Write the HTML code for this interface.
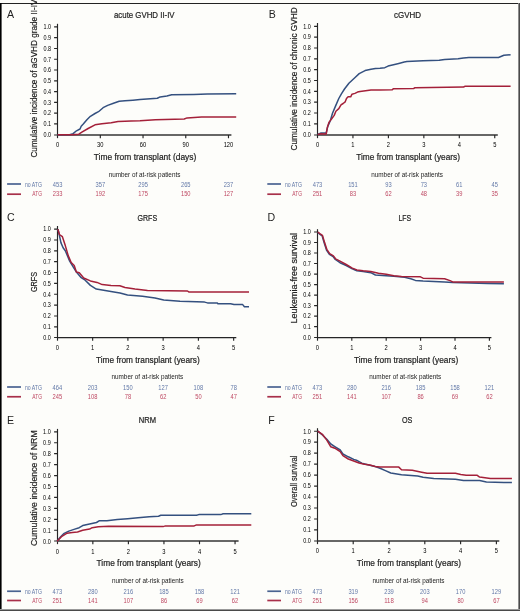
<!DOCTYPE html>
<html><head><meta charset="utf-8"><title>Figure</title>
<style>
html,body{margin:0;padding:0;background:#fdfdfa;}
body{width:520px;height:611px;overflow:hidden;}
svg{display:block;will-change:transform;font-family:"Liberation Sans", sans-serif;}
.dk{stroke:#222;stroke-width:0.2px;}
</style></head><body>
<svg width="520" height="611" viewBox="0 0 520 611">
<rect x="0" y="0" width="520" height="611" fill="#fdfdfa"/>
<g><text x="6.9" y="18.2" font-size="10.6" fill="#222">A</text>
<text x="114" y="18.45" font-size="8.8" fill="#222" class="dk" textLength="60.6" lengthAdjust="spacingAndGlyphs">acute GVHD II-IV</text>
<text transform="translate(37,157.6) rotate(-90)" x="0" y="0" font-size="9" fill="#222" class="dk" textLength="158.1" lengthAdjust="spacingAndGlyphs">Cumulative incidence of aGVHD grade II-IV</text>
<text x="93.75" y="159.5" font-size="8.8" fill="#222" class="dk" textLength="102.55" lengthAdjust="spacingAndGlyphs">Time from transplant (days)</text>
<path d="M57.5,23.8V138.15" stroke="#262626" stroke-width="1.15" fill="none"/>
<path d="M57.0,134.95H231.4" stroke="#353535" stroke-width="1.5" fill="none"/>
<path d="M54.1,123.92H57.5M54.1,113.14H57.5M54.1,102.36H57.5M54.1,91.58H57.5M54.1,80.8H57.5M54.1,70.02H57.5M54.1,59.24H57.5M54.1,48.46H57.5M54.1,37.68H57.5M54.1,26.9H57.5M54.1,134.95H57.5M100.32,134.95V138.15M143.04,134.95V138.15M185.76,134.95V138.15M228.48,134.95V138.15" stroke="#262626" stroke-width="1.15" fill="none"/>
<text x="51" y="137" font-size="6.6" fill="#000" text-anchor="end" textLength="7.6" lengthAdjust="spacingAndGlyphs">0.0</text>
<text x="51" y="126.22" font-size="6.6" fill="#000" text-anchor="end" textLength="7.6" lengthAdjust="spacingAndGlyphs">0.1</text>
<text x="51" y="115.44" font-size="6.6" fill="#000" text-anchor="end" textLength="7.6" lengthAdjust="spacingAndGlyphs">0.2</text>
<text x="51" y="104.66" font-size="6.6" fill="#000" text-anchor="end" textLength="7.6" lengthAdjust="spacingAndGlyphs">0.3</text>
<text x="51" y="93.88" font-size="6.6" fill="#000" text-anchor="end" textLength="7.6" lengthAdjust="spacingAndGlyphs">0.4</text>
<text x="51" y="83.1" font-size="6.6" fill="#000" text-anchor="end" textLength="7.6" lengthAdjust="spacingAndGlyphs">0.5</text>
<text x="51" y="72.32" font-size="6.6" fill="#000" text-anchor="end" textLength="7.6" lengthAdjust="spacingAndGlyphs">0.6</text>
<text x="51" y="61.54" font-size="6.6" fill="#000" text-anchor="end" textLength="7.6" lengthAdjust="spacingAndGlyphs">0.7</text>
<text x="51" y="50.76" font-size="6.6" fill="#000" text-anchor="end" textLength="7.6" lengthAdjust="spacingAndGlyphs">0.8</text>
<text x="51" y="39.98" font-size="6.6" fill="#000" text-anchor="end" textLength="7.6" lengthAdjust="spacingAndGlyphs">0.9</text>
<text x="51" y="29.2" font-size="6.6" fill="#000" text-anchor="end" textLength="7.6" lengthAdjust="spacingAndGlyphs">1.0</text>
<text x="57.6" y="147" font-size="6.8" fill="#000" text-anchor="middle" textLength="3.2" lengthAdjust="spacingAndGlyphs">0</text>
<text x="100.32" y="147" font-size="6.8" fill="#000" text-anchor="middle" textLength="6.4" lengthAdjust="spacingAndGlyphs">30</text>
<text x="143.04" y="147" font-size="6.8" fill="#000" text-anchor="middle" textLength="6.4" lengthAdjust="spacingAndGlyphs">60</text>
<text x="185.76" y="147" font-size="6.8" fill="#000" text-anchor="middle" textLength="6.4" lengthAdjust="spacingAndGlyphs">90</text>
<text x="228.48" y="147" font-size="6.8" fill="#000" text-anchor="middle" textLength="9.6" lengthAdjust="spacingAndGlyphs">120</text>
<polyline points="57.6,134.7 69.6,134.7 73.1,133.65 76.5,130.8 80,129 81.2,126.2 83.5,123.8 86.9,119.8 90.4,116.3 95,113.5 98.5,111.7 103.1,107.7 107.7,105.4 113.5,103.3 119.2,101.3 125,100.8 132.9,100.2 140,99.6 157.3,98.3 160.2,96.9 166.9,96 171.7,94.8 193.8,94.4 207.3,94 236.2,93.8" stroke="#34507f" stroke-width="1.5" fill="none" stroke-linejoin="round"/>
<polyline points="57.6,134.8 71.9,134.8 78.8,134.2 82.3,131.9 88.1,128.5 95,124.8 101.9,123.8 111.2,122.7 118.1,121.5 125,121.3 131.1,121 140,120.8 155.4,119.8 184.2,119 187.1,117.9 201.5,117.1 236.2,117.1" stroke="#a42039" stroke-width="1.5" fill="none" stroke-linejoin="round"/>
<text x="108.65" y="176.6" font-size="7" fill="#222" textLength="71.75" lengthAdjust="spacingAndGlyphs">number of at-risk patients</text>
<path d="M7.1,184H21" stroke="#4a6391" stroke-width="1.7"/>
<path d="M7.1,194.2H21" stroke="#a8304a" stroke-width="1.7"/>
<text x="24.9" y="186.7" font-size="6.5" fill="#6379a8" textLength="17.1" lengthAdjust="spacingAndGlyphs">no ATG</text>
<text x="32.3" y="196.3" font-size="6.5" fill="#bf4a64" textLength="9.7" lengthAdjust="spacingAndGlyphs">ATG</text>
<text x="57.6" y="186.7" font-size="6.3" fill="#6379a8" text-anchor="middle" textLength="9.6" lengthAdjust="spacingAndGlyphs">453</text>
<text x="57.6" y="196.3" font-size="6.3" fill="#bf4a64" text-anchor="middle" textLength="9.6" lengthAdjust="spacingAndGlyphs">233</text>
<text x="100.32" y="186.7" font-size="6.3" fill="#6379a8" text-anchor="middle" textLength="9.6" lengthAdjust="spacingAndGlyphs">357</text>
<text x="100.32" y="196.3" font-size="6.3" fill="#bf4a64" text-anchor="middle" textLength="9.6" lengthAdjust="spacingAndGlyphs">192</text>
<text x="143.04" y="186.7" font-size="6.3" fill="#6379a8" text-anchor="middle" textLength="9.6" lengthAdjust="spacingAndGlyphs">295</text>
<text x="143.04" y="196.3" font-size="6.3" fill="#bf4a64" text-anchor="middle" textLength="9.6" lengthAdjust="spacingAndGlyphs">175</text>
<text x="185.76" y="186.7" font-size="6.3" fill="#6379a8" text-anchor="middle" textLength="9.6" lengthAdjust="spacingAndGlyphs">265</text>
<text x="185.76" y="196.3" font-size="6.3" fill="#bf4a64" text-anchor="middle" textLength="9.6" lengthAdjust="spacingAndGlyphs">150</text>
<text x="228.48" y="186.7" font-size="6.3" fill="#6379a8" text-anchor="middle" textLength="9.6" lengthAdjust="spacingAndGlyphs">237</text>
<text x="228.48" y="196.3" font-size="6.3" fill="#bf4a64" text-anchor="middle" textLength="9.6" lengthAdjust="spacingAndGlyphs">127</text></g>
<g><text x="268.8" y="18.2" font-size="10.6" fill="#222">B</text>
<text x="394" y="18.45" font-size="8.8" fill="#222" class="dk" textLength="27" lengthAdjust="spacingAndGlyphs">cGVHD</text>
<text transform="translate(297,150.5) rotate(-90)" x="0" y="0" font-size="9" fill="#222" class="dk" textLength="143.3" lengthAdjust="spacingAndGlyphs">Cumulative incidence of chronic GVHD</text>
<text x="356.25" y="159.5" font-size="8.8" fill="#222" class="dk" textLength="103.75" lengthAdjust="spacingAndGlyphs">Time from transplant (years)</text>
<path d="M317.5,23V138.15" stroke="#262626" stroke-width="1.15" fill="none"/>
<path d="M317.0,134.95H497.8" stroke="#353535" stroke-width="1.5" fill="none"/>
<path d="M314.1,123.86H317.5M314.1,113.03H317.5M314.1,102.19H317.5M314.1,91.36H317.5M314.1,80.52H317.5M314.1,69.69H317.5M314.1,58.85H317.5M314.1,48.02H317.5M314.1,37.18H317.5M314.1,26.35H317.5M314.1,134.95H317.5M352.95,134.95V138.15M388.4,134.95V138.15M423.85,134.95V138.15M459.3,134.95V138.15M494.75,134.95V138.15" stroke="#262626" stroke-width="1.15" fill="none"/>
<text x="310.9" y="137" font-size="6.6" fill="#000" text-anchor="end" textLength="7.6" lengthAdjust="spacingAndGlyphs">0.0</text>
<text x="310.9" y="126.16" font-size="6.6" fill="#000" text-anchor="end" textLength="7.6" lengthAdjust="spacingAndGlyphs">0.1</text>
<text x="310.9" y="115.33" font-size="6.6" fill="#000" text-anchor="end" textLength="7.6" lengthAdjust="spacingAndGlyphs">0.2</text>
<text x="310.9" y="104.49" font-size="6.6" fill="#000" text-anchor="end" textLength="7.6" lengthAdjust="spacingAndGlyphs">0.3</text>
<text x="310.9" y="93.66" font-size="6.6" fill="#000" text-anchor="end" textLength="7.6" lengthAdjust="spacingAndGlyphs">0.4</text>
<text x="310.9" y="82.82" font-size="6.6" fill="#000" text-anchor="end" textLength="7.6" lengthAdjust="spacingAndGlyphs">0.5</text>
<text x="310.9" y="71.99" font-size="6.6" fill="#000" text-anchor="end" textLength="7.6" lengthAdjust="spacingAndGlyphs">0.6</text>
<text x="310.9" y="61.15" font-size="6.6" fill="#000" text-anchor="end" textLength="7.6" lengthAdjust="spacingAndGlyphs">0.7</text>
<text x="310.9" y="50.32" font-size="6.6" fill="#000" text-anchor="end" textLength="7.6" lengthAdjust="spacingAndGlyphs">0.8</text>
<text x="310.9" y="39.48" font-size="6.6" fill="#000" text-anchor="end" textLength="7.6" lengthAdjust="spacingAndGlyphs">0.9</text>
<text x="310.9" y="28.65" font-size="6.6" fill="#000" text-anchor="end" textLength="7.6" lengthAdjust="spacingAndGlyphs">1.0</text>
<text x="317.5" y="147" font-size="6.8" fill="#000" text-anchor="middle" textLength="3.2" lengthAdjust="spacingAndGlyphs">0</text>
<text x="352.95" y="147" font-size="6.8" fill="#000" text-anchor="middle" textLength="3.2" lengthAdjust="spacingAndGlyphs">1</text>
<text x="388.4" y="147" font-size="6.8" fill="#000" text-anchor="middle" textLength="3.2" lengthAdjust="spacingAndGlyphs">2</text>
<text x="423.85" y="147" font-size="6.8" fill="#000" text-anchor="middle" textLength="3.2" lengthAdjust="spacingAndGlyphs">3</text>
<text x="459.3" y="147" font-size="6.8" fill="#000" text-anchor="middle" textLength="3.2" lengthAdjust="spacingAndGlyphs">4</text>
<text x="494.75" y="147" font-size="6.8" fill="#000" text-anchor="middle" textLength="3.2" lengthAdjust="spacingAndGlyphs">5</text>
<polyline points="317.7,134.5 321.1,132.9 326.2,132.9 327.8,126.4 330.4,120.5 332.5,113.3 335.5,106.1 338.8,98.5 341.4,93.8 344.5,89 348.9,83.2 354.8,77.7 359.2,73.6 365.1,70.6 371,69.2 375.4,68.4 380,68.3 384.8,67.7 388.1,66.1 393.5,64.8 398.8,63.4 404.2,62.1 406.9,61.5 423.1,60.7 439.2,60.2 444.6,59.4 458.1,58.8 463.5,58 468.9,57.5 498.5,57.5 503.9,55.3 510.6,54.8" stroke="#34507f" stroke-width="1.5" fill="none" stroke-linejoin="round"/>
<polyline points="317.7,134.5 321.1,133.7 326.2,134 327.4,127.2 329.1,122.1 331.7,118.8 334.2,115.4 335.9,111.2 338.8,108.6 341,104.8 343.1,103.5 345.2,101.8 346.5,98.5 348.1,96.8 350.7,96.8 352,94.2 354.9,93.4 357.5,92.1 360,91.6 371,90.1 380,90.1 392.1,89.8 393.5,88.7 413.7,88.5 415,87.7 463.5,87.1 464.8,86.3 510.6,86.3" stroke="#a42039" stroke-width="1.5" fill="none" stroke-linejoin="round"/>
<text x="371.25" y="176.6" font-size="7" fill="#222" textLength="71.75" lengthAdjust="spacingAndGlyphs">number of at-risk patients</text>
<path d="M267.3,184H281" stroke="#4a6391" stroke-width="1.7"/>
<path d="M267.3,194.2H281" stroke="#a8304a" stroke-width="1.7"/>
<text x="284.9" y="186.7" font-size="6.5" fill="#6379a8" textLength="17.1" lengthAdjust="spacingAndGlyphs">no ATG</text>
<text x="292.3" y="196.3" font-size="6.5" fill="#bf4a64" textLength="9.7" lengthAdjust="spacingAndGlyphs">ATG</text>
<text x="317.5" y="186.7" font-size="6.3" fill="#6379a8" text-anchor="middle" textLength="9.6" lengthAdjust="spacingAndGlyphs">473</text>
<text x="317.5" y="196.3" font-size="6.3" fill="#bf4a64" text-anchor="middle" textLength="9.6" lengthAdjust="spacingAndGlyphs">251</text>
<text x="352.95" y="186.7" font-size="6.3" fill="#6379a8" text-anchor="middle" textLength="9.6" lengthAdjust="spacingAndGlyphs">151</text>
<text x="352.95" y="196.3" font-size="6.3" fill="#bf4a64" text-anchor="middle" textLength="6.4" lengthAdjust="spacingAndGlyphs">83</text>
<text x="388.4" y="186.7" font-size="6.3" fill="#6379a8" text-anchor="middle" textLength="6.4" lengthAdjust="spacingAndGlyphs">93</text>
<text x="388.4" y="196.3" font-size="6.3" fill="#bf4a64" text-anchor="middle" textLength="6.4" lengthAdjust="spacingAndGlyphs">62</text>
<text x="423.85" y="186.7" font-size="6.3" fill="#6379a8" text-anchor="middle" textLength="6.4" lengthAdjust="spacingAndGlyphs">73</text>
<text x="423.85" y="196.3" font-size="6.3" fill="#bf4a64" text-anchor="middle" textLength="6.4" lengthAdjust="spacingAndGlyphs">48</text>
<text x="459.3" y="186.7" font-size="6.3" fill="#6379a8" text-anchor="middle" textLength="6.4" lengthAdjust="spacingAndGlyphs">61</text>
<text x="459.3" y="196.3" font-size="6.3" fill="#bf4a64" text-anchor="middle" textLength="6.4" lengthAdjust="spacingAndGlyphs">39</text>
<text x="494.75" y="186.7" font-size="6.3" fill="#6379a8" text-anchor="middle" textLength="6.4" lengthAdjust="spacingAndGlyphs">45</text>
<text x="494.75" y="196.3" font-size="6.3" fill="#bf4a64" text-anchor="middle" textLength="6.4" lengthAdjust="spacingAndGlyphs">35</text></g>
<g><text x="6.9" y="221" font-size="10.6" fill="#222">C</text>
<text x="137.5" y="221.25" font-size="8.8" fill="#222" class="dk" textLength="19.65" lengthAdjust="spacingAndGlyphs">GRFS</text>
<text transform="translate(37,292.1) rotate(-90)" x="0" y="0" font-size="9" fill="#222" class="dk" textLength="20.3" lengthAdjust="spacingAndGlyphs">GRFS</text>
<text x="96" y="362.5" font-size="8.8" fill="#222" class="dk" textLength="103.75" lengthAdjust="spacingAndGlyphs">Time from transplant (years)</text>
<path d="M57.5,226V340.7" stroke="#262626" stroke-width="1.15" fill="none"/>
<path d="M57.0,337.5H236.3" stroke="#262626" stroke-width="1.25" fill="none"/>
<path d="M54.1,326.84H57.5M54.1,315.98H57.5M54.1,305.12H57.5M54.1,294.26H57.5M54.1,283.4H57.5M54.1,272.54H57.5M54.1,261.68H57.5M54.1,250.82H57.5M54.1,239.96H57.5M54.1,229.1H57.5M54.1,337.5H57.5M92.65,337.5V340.7M127.9,337.5V340.7M163.15,337.5V340.7M198.4,337.5V340.7M233.65,337.5V340.7" stroke="#262626" stroke-width="1.15" fill="none"/>
<text x="50.8" y="340" font-size="6.6" fill="#000" text-anchor="end" textLength="7.6" lengthAdjust="spacingAndGlyphs">0.0</text>
<text x="50.8" y="329.14" font-size="6.6" fill="#000" text-anchor="end" textLength="7.6" lengthAdjust="spacingAndGlyphs">0.1</text>
<text x="50.8" y="318.28" font-size="6.6" fill="#000" text-anchor="end" textLength="7.6" lengthAdjust="spacingAndGlyphs">0.2</text>
<text x="50.8" y="307.42" font-size="6.6" fill="#000" text-anchor="end" textLength="7.6" lengthAdjust="spacingAndGlyphs">0.3</text>
<text x="50.8" y="296.56" font-size="6.6" fill="#000" text-anchor="end" textLength="7.6" lengthAdjust="spacingAndGlyphs">0.4</text>
<text x="50.8" y="285.7" font-size="6.6" fill="#000" text-anchor="end" textLength="7.6" lengthAdjust="spacingAndGlyphs">0.5</text>
<text x="50.8" y="274.84" font-size="6.6" fill="#000" text-anchor="end" textLength="7.6" lengthAdjust="spacingAndGlyphs">0.6</text>
<text x="50.8" y="263.98" font-size="6.6" fill="#000" text-anchor="end" textLength="7.6" lengthAdjust="spacingAndGlyphs">0.7</text>
<text x="50.8" y="253.12" font-size="6.6" fill="#000" text-anchor="end" textLength="7.6" lengthAdjust="spacingAndGlyphs">0.8</text>
<text x="50.8" y="242.26" font-size="6.6" fill="#000" text-anchor="end" textLength="7.6" lengthAdjust="spacingAndGlyphs">0.9</text>
<text x="50.8" y="231.4" font-size="6.6" fill="#000" text-anchor="end" textLength="7.6" lengthAdjust="spacingAndGlyphs">1.0</text>
<text x="57.4" y="350" font-size="6.8" fill="#000" text-anchor="middle" textLength="3.2" lengthAdjust="spacingAndGlyphs">0</text>
<text x="92.65" y="350" font-size="6.8" fill="#000" text-anchor="middle" textLength="3.2" lengthAdjust="spacingAndGlyphs">1</text>
<text x="127.9" y="350" font-size="6.8" fill="#000" text-anchor="middle" textLength="3.2" lengthAdjust="spacingAndGlyphs">2</text>
<text x="163.15" y="350" font-size="6.8" fill="#000" text-anchor="middle" textLength="3.2" lengthAdjust="spacingAndGlyphs">3</text>
<text x="198.4" y="350" font-size="6.8" fill="#000" text-anchor="middle" textLength="3.2" lengthAdjust="spacingAndGlyphs">4</text>
<text x="233.65" y="350" font-size="6.8" fill="#000" text-anchor="middle" textLength="3.2" lengthAdjust="spacingAndGlyphs">5</text>
<polyline points="57.9,229.1 59.4,235.3 60.9,242.6 63.1,247.8 65.3,250.7 67.5,255.9 69.7,261.1 72.7,266.2 76.4,272.1 80.8,277.3 85.2,280.2 90.4,285.4 96.3,289.05 105.1,290.5 113.9,292 120,293 127.5,295 142.5,296.25 155,298 163.75,300 180,301.25 204.6,302.1 207.5,302.9 217.3,302.9 217.9,303.7 230.6,303.7 234,304.4 242.7,304.6 244.4,306.7 249,306.7" stroke="#34507f" stroke-width="1.5" fill="none" stroke-linejoin="round"/>
<polyline points="57.9,229.1 59.4,234.5 62.4,236.7 65.3,245.6 68.3,255.9 71.2,262.5 74.2,265.5 76.4,272.1 79.3,272.8 83.7,278 90.4,280.9 97,282.4 102.2,284.6 111,285.4 119.8,285.7 125,287.5 135,289 147.5,290.5 187.5,291 188.75,291.9 249,291.9" stroke="#a42039" stroke-width="1.5" fill="none" stroke-linejoin="round"/>
<text x="111.5" y="379.3" font-size="7" fill="#222" textLength="71.75" lengthAdjust="spacingAndGlyphs">number of at-risk patients</text>
<path d="M7.1,387H21" stroke="#4a6391" stroke-width="1.7"/>
<path d="M7.1,396.75H21" stroke="#a8304a" stroke-width="1.7"/>
<text x="24.9" y="389.6" font-size="6.5" fill="#6379a8" textLength="17.1" lengthAdjust="spacingAndGlyphs">no ATG</text>
<text x="32.3" y="399.2" font-size="6.5" fill="#bf4a64" textLength="9.7" lengthAdjust="spacingAndGlyphs">ATG</text>
<text x="57.4" y="389.6" font-size="6.3" fill="#6379a8" text-anchor="middle" textLength="9.6" lengthAdjust="spacingAndGlyphs">464</text>
<text x="57.4" y="399.2" font-size="6.3" fill="#bf4a64" text-anchor="middle" textLength="9.6" lengthAdjust="spacingAndGlyphs">245</text>
<text x="92.65" y="389.6" font-size="6.3" fill="#6379a8" text-anchor="middle" textLength="9.6" lengthAdjust="spacingAndGlyphs">203</text>
<text x="92.65" y="399.2" font-size="6.3" fill="#bf4a64" text-anchor="middle" textLength="9.6" lengthAdjust="spacingAndGlyphs">108</text>
<text x="127.9" y="389.6" font-size="6.3" fill="#6379a8" text-anchor="middle" textLength="9.6" lengthAdjust="spacingAndGlyphs">150</text>
<text x="127.9" y="399.2" font-size="6.3" fill="#bf4a64" text-anchor="middle" textLength="6.4" lengthAdjust="spacingAndGlyphs">78</text>
<text x="163.15" y="389.6" font-size="6.3" fill="#6379a8" text-anchor="middle" textLength="9.6" lengthAdjust="spacingAndGlyphs">127</text>
<text x="163.15" y="399.2" font-size="6.3" fill="#bf4a64" text-anchor="middle" textLength="6.4" lengthAdjust="spacingAndGlyphs">62</text>
<text x="198.4" y="389.6" font-size="6.3" fill="#6379a8" text-anchor="middle" textLength="9.6" lengthAdjust="spacingAndGlyphs">108</text>
<text x="198.4" y="399.2" font-size="6.3" fill="#bf4a64" text-anchor="middle" textLength="6.4" lengthAdjust="spacingAndGlyphs">50</text>
<text x="233.65" y="389.6" font-size="6.3" fill="#6379a8" text-anchor="middle" textLength="6.4" lengthAdjust="spacingAndGlyphs">78</text>
<text x="233.65" y="399.2" font-size="6.3" fill="#bf4a64" text-anchor="middle" textLength="6.4" lengthAdjust="spacingAndGlyphs">47</text></g>
<g><text x="267.5" y="221" font-size="10.6" fill="#222">D</text>
<text x="398.5" y="221.25" font-size="8.8" fill="#222" class="dk" textLength="12.65" lengthAdjust="spacingAndGlyphs">LFS</text>
<text transform="translate(297,323.4) rotate(-90)" x="0" y="0" font-size="9" fill="#222" class="dk" textLength="90.5" lengthAdjust="spacingAndGlyphs">Leukemia-free survival</text>
<text x="354" y="362.5" font-size="8.8" fill="#222" class="dk" textLength="104.2" lengthAdjust="spacingAndGlyphs">Time from transplant (years)</text>
<path d="M317.5,229.2V340.7" stroke="#262626" stroke-width="1.15" fill="none"/>
<path d="M317.0,337.5H491.4" stroke="#262626" stroke-width="1.25" fill="none"/>
<path d="M314.1,326.68H317.5M314.1,316.15H317.5M314.1,305.62H317.5M314.1,295.1H317.5M314.1,284.57H317.5M314.1,274.05H317.5M314.1,263.52H317.5M314.1,253H317.5M314.1,242.47H317.5M314.1,231.95H317.5M314.1,337.5H317.5M351.8,337.5V340.7M386.2,337.5V340.7M420.6,337.5V340.7M455,337.5V340.7M489.4,337.5V340.7" stroke="#262626" stroke-width="1.15" fill="none"/>
<text x="310.8" y="339.5" font-size="6.6" fill="#000" text-anchor="end" textLength="7.6" lengthAdjust="spacingAndGlyphs">0.0</text>
<text x="310.8" y="328.98" font-size="6.6" fill="#000" text-anchor="end" textLength="7.6" lengthAdjust="spacingAndGlyphs">0.1</text>
<text x="310.8" y="318.45" font-size="6.6" fill="#000" text-anchor="end" textLength="7.6" lengthAdjust="spacingAndGlyphs">0.2</text>
<text x="310.8" y="307.93" font-size="6.6" fill="#000" text-anchor="end" textLength="7.6" lengthAdjust="spacingAndGlyphs">0.3</text>
<text x="310.8" y="297.4" font-size="6.6" fill="#000" text-anchor="end" textLength="7.6" lengthAdjust="spacingAndGlyphs">0.4</text>
<text x="310.8" y="286.88" font-size="6.6" fill="#000" text-anchor="end" textLength="7.6" lengthAdjust="spacingAndGlyphs">0.5</text>
<text x="310.8" y="276.35" font-size="6.6" fill="#000" text-anchor="end" textLength="7.6" lengthAdjust="spacingAndGlyphs">0.6</text>
<text x="310.8" y="265.82" font-size="6.6" fill="#000" text-anchor="end" textLength="7.6" lengthAdjust="spacingAndGlyphs">0.7</text>
<text x="310.8" y="255.3" font-size="6.6" fill="#000" text-anchor="end" textLength="7.6" lengthAdjust="spacingAndGlyphs">0.8</text>
<text x="310.8" y="244.78" font-size="6.6" fill="#000" text-anchor="end" textLength="7.6" lengthAdjust="spacingAndGlyphs">0.9</text>
<text x="310.8" y="234.25" font-size="6.6" fill="#000" text-anchor="end" textLength="7.6" lengthAdjust="spacingAndGlyphs">1.0</text>
<text x="317.4" y="349.5" font-size="6.8" fill="#000" text-anchor="middle" textLength="3.2" lengthAdjust="spacingAndGlyphs">0</text>
<text x="351.8" y="349.5" font-size="6.8" fill="#000" text-anchor="middle" textLength="3.2" lengthAdjust="spacingAndGlyphs">1</text>
<text x="386.2" y="349.5" font-size="6.8" fill="#000" text-anchor="middle" textLength="3.2" lengthAdjust="spacingAndGlyphs">2</text>
<text x="420.6" y="349.5" font-size="6.8" fill="#000" text-anchor="middle" textLength="3.2" lengthAdjust="spacingAndGlyphs">3</text>
<text x="455" y="349.5" font-size="6.8" fill="#000" text-anchor="middle" textLength="3.2" lengthAdjust="spacingAndGlyphs">4</text>
<text x="489.4" y="349.5" font-size="6.8" fill="#000" text-anchor="middle" textLength="3.2" lengthAdjust="spacingAndGlyphs">5</text>
<polyline points="317.7,232.3 320,234.4 322.2,236 324.3,243.3 326.5,250 329.4,254.4 333.1,256.6 335.3,259.5 340,262.7 346.2,265.5 352.3,268.8 356.9,270.8 363.1,271.6 370.8,272.7 375.4,275 386.2,275.8 393.8,276.2 404.6,277.3 410.8,278.8 415.4,280.4 423.1,281.1 444.6,281.9 452.7,282.5 487.7,283.4 503.9,283.7" stroke="#34507f" stroke-width="1.5" fill="none" stroke-linejoin="round"/>
<polyline points="317.7,232 320.2,233.8 322.4,235.3 324.6,242.6 326.8,249.3 329.7,253.7 333.4,255.9 335.6,258.8 340,261.15 346.2,264.5 352.3,268.1 356.9,269.9 363.1,270.8 370.8,271.6 378.5,273.2 386.2,274.2 393.8,275.8 401.5,276.5 420.4,276.8 423.1,278.2 444.6,278.7 450,280.6 452.7,281.9 503.9,281.9" stroke="#a42039" stroke-width="1.5" fill="none" stroke-linejoin="round"/>
<text x="369.25" y="379.3" font-size="7" fill="#222" textLength="72" lengthAdjust="spacingAndGlyphs">number of at-risk patients</text>
<path d="M267.3,387H281" stroke="#4a6391" stroke-width="1.7"/>
<path d="M267.3,396.75H281" stroke="#a8304a" stroke-width="1.7"/>
<text x="284.9" y="389.6" font-size="6.5" fill="#6379a8" textLength="17.1" lengthAdjust="spacingAndGlyphs">no ATG</text>
<text x="292.3" y="399.2" font-size="6.5" fill="#bf4a64" textLength="9.7" lengthAdjust="spacingAndGlyphs">ATG</text>
<text x="317.4" y="389.6" font-size="6.3" fill="#6379a8" text-anchor="middle" textLength="9.6" lengthAdjust="spacingAndGlyphs">473</text>
<text x="317.4" y="399.2" font-size="6.3" fill="#bf4a64" text-anchor="middle" textLength="9.6" lengthAdjust="spacingAndGlyphs">251</text>
<text x="351.8" y="389.6" font-size="6.3" fill="#6379a8" text-anchor="middle" textLength="9.6" lengthAdjust="spacingAndGlyphs">280</text>
<text x="351.8" y="399.2" font-size="6.3" fill="#bf4a64" text-anchor="middle" textLength="9.6" lengthAdjust="spacingAndGlyphs">141</text>
<text x="386.2" y="389.6" font-size="6.3" fill="#6379a8" text-anchor="middle" textLength="9.6" lengthAdjust="spacingAndGlyphs">216</text>
<text x="386.2" y="399.2" font-size="6.3" fill="#bf4a64" text-anchor="middle" textLength="9.6" lengthAdjust="spacingAndGlyphs">107</text>
<text x="420.6" y="389.6" font-size="6.3" fill="#6379a8" text-anchor="middle" textLength="9.6" lengthAdjust="spacingAndGlyphs">185</text>
<text x="420.6" y="399.2" font-size="6.3" fill="#bf4a64" text-anchor="middle" textLength="6.4" lengthAdjust="spacingAndGlyphs">86</text>
<text x="455" y="389.6" font-size="6.3" fill="#6379a8" text-anchor="middle" textLength="9.6" lengthAdjust="spacingAndGlyphs">158</text>
<text x="455" y="399.2" font-size="6.3" fill="#bf4a64" text-anchor="middle" textLength="6.4" lengthAdjust="spacingAndGlyphs">69</text>
<text x="489.4" y="389.6" font-size="6.3" fill="#6379a8" text-anchor="middle" textLength="9.6" lengthAdjust="spacingAndGlyphs">121</text>
<text x="489.4" y="399.2" font-size="6.3" fill="#bf4a64" text-anchor="middle" textLength="6.4" lengthAdjust="spacingAndGlyphs">62</text></g>
<g><text x="6.9" y="423.5" font-size="10.6" fill="#222">E</text>
<text x="138.7" y="423.25" font-size="8.8" fill="#222" class="dk" textLength="17.3" lengthAdjust="spacingAndGlyphs">NRM</text>
<text transform="translate(37.2,546) rotate(-90)" x="0" y="0" font-size="9" fill="#222" class="dk" textLength="115.7" lengthAdjust="spacingAndGlyphs">Cumulative incidence of NRM</text>
<text x="96.6" y="565.5" font-size="8.8" fill="#222" class="dk" textLength="104.2" lengthAdjust="spacingAndGlyphs">Time from transplant (years)</text>
<path d="M57.5,428.9V544.15" stroke="#262626" stroke-width="1.15" fill="none"/>
<path d="M57.0,540.95H238.6" stroke="#353535" stroke-width="1.5" fill="none"/>
<path d="M54.1,530.26H57.5M54.1,519.32H57.5M54.1,508.38H57.5M54.1,497.44H57.5M54.1,486.5H57.5M54.1,475.56H57.5M54.1,464.62H57.5M54.1,453.68H57.5M54.1,442.74H57.5M54.1,431.8H57.5M54.1,540.95H57.5M92.85,540.95V544.15M128.4,540.95V544.15M163.95,540.95V544.15M199.5,540.95V544.15M235.05,540.95V544.15" stroke="#262626" stroke-width="1.15" fill="none"/>
<text x="50.7" y="543.5" font-size="6.6" fill="#000" text-anchor="end" textLength="7.6" lengthAdjust="spacingAndGlyphs">0.0</text>
<text x="50.7" y="532.56" font-size="6.6" fill="#000" text-anchor="end" textLength="7.6" lengthAdjust="spacingAndGlyphs">0.1</text>
<text x="50.7" y="521.62" font-size="6.6" fill="#000" text-anchor="end" textLength="7.6" lengthAdjust="spacingAndGlyphs">0.2</text>
<text x="50.7" y="510.68" font-size="6.6" fill="#000" text-anchor="end" textLength="7.6" lengthAdjust="spacingAndGlyphs">0.3</text>
<text x="50.7" y="499.74" font-size="6.6" fill="#000" text-anchor="end" textLength="7.6" lengthAdjust="spacingAndGlyphs">0.4</text>
<text x="50.7" y="488.8" font-size="6.6" fill="#000" text-anchor="end" textLength="7.6" lengthAdjust="spacingAndGlyphs">0.5</text>
<text x="50.7" y="477.86" font-size="6.6" fill="#000" text-anchor="end" textLength="7.6" lengthAdjust="spacingAndGlyphs">0.6</text>
<text x="50.7" y="466.92" font-size="6.6" fill="#000" text-anchor="end" textLength="7.6" lengthAdjust="spacingAndGlyphs">0.7</text>
<text x="50.7" y="455.98" font-size="6.6" fill="#000" text-anchor="end" textLength="7.6" lengthAdjust="spacingAndGlyphs">0.8</text>
<text x="50.7" y="445.04" font-size="6.6" fill="#000" text-anchor="end" textLength="7.6" lengthAdjust="spacingAndGlyphs">0.9</text>
<text x="50.7" y="434.1" font-size="6.6" fill="#000" text-anchor="end" textLength="7.6" lengthAdjust="spacingAndGlyphs">1.0</text>
<text x="57.3" y="553.5" font-size="6.8" fill="#000" text-anchor="middle" textLength="3.2" lengthAdjust="spacingAndGlyphs">0</text>
<text x="92.85" y="553.5" font-size="6.8" fill="#000" text-anchor="middle" textLength="3.2" lengthAdjust="spacingAndGlyphs">1</text>
<text x="128.4" y="553.5" font-size="6.8" fill="#000" text-anchor="middle" textLength="3.2" lengthAdjust="spacingAndGlyphs">2</text>
<text x="163.95" y="553.5" font-size="6.8" fill="#000" text-anchor="middle" textLength="3.2" lengthAdjust="spacingAndGlyphs">3</text>
<text x="199.5" y="553.5" font-size="6.8" fill="#000" text-anchor="middle" textLength="3.2" lengthAdjust="spacingAndGlyphs">4</text>
<text x="235.05" y="553.5" font-size="6.8" fill="#000" text-anchor="middle" textLength="3.2" lengthAdjust="spacingAndGlyphs">5</text>
<polyline points="57.1,541.2 60.2,537.2 63.65,533.7 68.8,531.1 74,529.4 79.2,527.7 82.7,525.6 89.6,523.9 96.5,522.5 99.1,520.8 106.9,520.8 117.3,519.55 127.7,518.7 138,517.8 149.2,516.8 158.5,516.2 160.8,515.3 196.5,515.3 198.8,514.6 220.8,514.6 223.1,513.8 251.3,513.8" stroke="#34507f" stroke-width="1.5" fill="none" stroke-linejoin="round"/>
<polyline points="57.1,541.2 61.9,536.3 67.1,533.2 72.3,532.5 77.5,532 82.7,530.3 89.6,529.1 92.2,527.7 98.3,526.8 108.6,526.3 163.1,526.6 165.4,525.9 194.2,525.9 196.5,524.9 251.3,524.9" stroke="#a42039" stroke-width="1.5" fill="none" stroke-linejoin="round"/>
<text x="112" y="582.8" font-size="7" fill="#222" textLength="71.75" lengthAdjust="spacingAndGlyphs">number of at-risk patients</text>
<path d="M7.1,591.25H21" stroke="#4a6391" stroke-width="1.7"/>
<path d="M7.1,600.5H21" stroke="#a8304a" stroke-width="1.7"/>
<text x="24.9" y="593.5" font-size="6.5" fill="#6379a8" textLength="17.1" lengthAdjust="spacingAndGlyphs">no ATG</text>
<text x="32.3" y="602.8" font-size="6.5" fill="#bf4a64" textLength="9.7" lengthAdjust="spacingAndGlyphs">ATG</text>
<text x="57.3" y="593.5" font-size="6.3" fill="#6379a8" text-anchor="middle" textLength="9.6" lengthAdjust="spacingAndGlyphs">473</text>
<text x="57.3" y="602.8" font-size="6.3" fill="#bf4a64" text-anchor="middle" textLength="9.6" lengthAdjust="spacingAndGlyphs">251</text>
<text x="92.85" y="593.5" font-size="6.3" fill="#6379a8" text-anchor="middle" textLength="9.6" lengthAdjust="spacingAndGlyphs">280</text>
<text x="92.85" y="602.8" font-size="6.3" fill="#bf4a64" text-anchor="middle" textLength="9.6" lengthAdjust="spacingAndGlyphs">141</text>
<text x="128.4" y="593.5" font-size="6.3" fill="#6379a8" text-anchor="middle" textLength="9.6" lengthAdjust="spacingAndGlyphs">216</text>
<text x="128.4" y="602.8" font-size="6.3" fill="#bf4a64" text-anchor="middle" textLength="9.6" lengthAdjust="spacingAndGlyphs">107</text>
<text x="163.95" y="593.5" font-size="6.3" fill="#6379a8" text-anchor="middle" textLength="9.6" lengthAdjust="spacingAndGlyphs">185</text>
<text x="163.95" y="602.8" font-size="6.3" fill="#bf4a64" text-anchor="middle" textLength="6.4" lengthAdjust="spacingAndGlyphs">86</text>
<text x="199.5" y="593.5" font-size="6.3" fill="#6379a8" text-anchor="middle" textLength="9.6" lengthAdjust="spacingAndGlyphs">158</text>
<text x="199.5" y="602.8" font-size="6.3" fill="#bf4a64" text-anchor="middle" textLength="6.4" lengthAdjust="spacingAndGlyphs">69</text>
<text x="235.05" y="593.5" font-size="6.3" fill="#6379a8" text-anchor="middle" textLength="9.6" lengthAdjust="spacingAndGlyphs">121</text>
<text x="235.05" y="602.8" font-size="6.3" fill="#bf4a64" text-anchor="middle" textLength="6.4" lengthAdjust="spacingAndGlyphs">62</text></g>
<g><text x="268.2" y="423.5" font-size="10.6" fill="#222">F</text>
<text x="401.9" y="423.25" font-size="8.8" fill="#222" class="dk" textLength="10.4" lengthAdjust="spacingAndGlyphs">OS</text>
<text transform="translate(297.2,507.1) rotate(-90)" x="0" y="0" font-size="9" fill="#222" class="dk" textLength="51.6" lengthAdjust="spacingAndGlyphs">Overall survival</text>
<text x="356.8" y="565.5" font-size="8.8" fill="#222" class="dk" textLength="104.2" lengthAdjust="spacingAndGlyphs">Time from transplant (years)</text>
<path d="M317.5,428.2V544.15" stroke="#262626" stroke-width="1.15" fill="none"/>
<path d="M317.0,540.95H499.3" stroke="#353535" stroke-width="1.5" fill="none"/>
<path d="M314.1,529.93H317.5M314.1,518.96H317.5M314.1,507.99H317.5M314.1,497.02H317.5M314.1,486.05H317.5M314.1,475.08H317.5M314.1,464.11H317.5M314.1,453.14H317.5M314.1,442.17H317.5M314.1,431.2H317.5M314.1,540.95H317.5M353.2,540.95V544.15M389,540.95V544.15M424.8,540.95V544.15M460.6,540.95V544.15M496.4,540.95V544.15" stroke="#262626" stroke-width="1.15" fill="none"/>
<text x="310.8" y="543.2" font-size="6.6" fill="#000" text-anchor="end" textLength="7.6" lengthAdjust="spacingAndGlyphs">0.0</text>
<text x="310.8" y="532.23" font-size="6.6" fill="#000" text-anchor="end" textLength="7.6" lengthAdjust="spacingAndGlyphs">0.1</text>
<text x="310.8" y="521.26" font-size="6.6" fill="#000" text-anchor="end" textLength="7.6" lengthAdjust="spacingAndGlyphs">0.2</text>
<text x="310.8" y="510.29" font-size="6.6" fill="#000" text-anchor="end" textLength="7.6" lengthAdjust="spacingAndGlyphs">0.3</text>
<text x="310.8" y="499.32" font-size="6.6" fill="#000" text-anchor="end" textLength="7.6" lengthAdjust="spacingAndGlyphs">0.4</text>
<text x="310.8" y="488.35" font-size="6.6" fill="#000" text-anchor="end" textLength="7.6" lengthAdjust="spacingAndGlyphs">0.5</text>
<text x="310.8" y="477.38" font-size="6.6" fill="#000" text-anchor="end" textLength="7.6" lengthAdjust="spacingAndGlyphs">0.6</text>
<text x="310.8" y="466.41" font-size="6.6" fill="#000" text-anchor="end" textLength="7.6" lengthAdjust="spacingAndGlyphs">0.7</text>
<text x="310.8" y="455.44" font-size="6.6" fill="#000" text-anchor="end" textLength="7.6" lengthAdjust="spacingAndGlyphs">0.8</text>
<text x="310.8" y="444.47" font-size="6.6" fill="#000" text-anchor="end" textLength="7.6" lengthAdjust="spacingAndGlyphs">0.9</text>
<text x="310.8" y="433.5" font-size="6.6" fill="#000" text-anchor="end" textLength="7.6" lengthAdjust="spacingAndGlyphs">1.0</text>
<text x="317.4" y="553.2" font-size="6.8" fill="#000" text-anchor="middle" textLength="3.2" lengthAdjust="spacingAndGlyphs">0</text>
<text x="353.2" y="553.2" font-size="6.8" fill="#000" text-anchor="middle" textLength="3.2" lengthAdjust="spacingAndGlyphs">1</text>
<text x="389" y="553.2" font-size="6.8" fill="#000" text-anchor="middle" textLength="3.2" lengthAdjust="spacingAndGlyphs">2</text>
<text x="424.8" y="553.2" font-size="6.8" fill="#000" text-anchor="middle" textLength="3.2" lengthAdjust="spacingAndGlyphs">3</text>
<text x="460.6" y="553.2" font-size="6.8" fill="#000" text-anchor="middle" textLength="3.2" lengthAdjust="spacingAndGlyphs">4</text>
<text x="496.4" y="553.2" font-size="6.8" fill="#000" text-anchor="middle" textLength="3.2" lengthAdjust="spacingAndGlyphs">5</text>
<polyline points="317.7,431.2 322.7,435.2 326.8,439.2 330.8,444 334.8,446.6 340.2,450 342.9,454 348.3,456.8 353.7,459.4 356.4,460.2 361.8,463.2 369.8,465.2 375.2,466.6 380,468.2 385.4,470.6 390.8,473 401.5,474.7 417.7,476 423.1,477.3 433.8,478.4 455.4,479.2 463.5,480.6 479.6,480.6 486.4,481.9 503.9,482.5 511.9,482.5" stroke="#34507f" stroke-width="1.5" fill="none" stroke-linejoin="round"/>
<polyline points="317.7,431.2 322.7,434.7 326.8,440.1 330.8,446.8 334.8,448.2 340.2,451.6 342.9,455.6 348.3,459 353.7,461 359.1,463 364.5,464.3 369.8,465 375.2,466.4 380,467.1 398.8,467.1 401.5,469.8 412.3,470.3 420.4,472 427.1,473.3 455.4,473.3 460.8,474.4 466.2,475.2 476.9,475.2 479.6,477.1 490.4,478.4 511.9,478.4" stroke="#a42039" stroke-width="1.5" fill="none" stroke-linejoin="round"/>
<text x="372.5" y="582.8" font-size="7" fill="#222" textLength="72" lengthAdjust="spacingAndGlyphs">number of at-risk patients</text>
<path d="M267.3,591.25H281" stroke="#4a6391" stroke-width="1.7"/>
<path d="M267.3,600.5H281" stroke="#a8304a" stroke-width="1.7"/>
<text x="284.9" y="593.5" font-size="6.5" fill="#6379a8" textLength="17.1" lengthAdjust="spacingAndGlyphs">no ATG</text>
<text x="292.3" y="602.8" font-size="6.5" fill="#bf4a64" textLength="9.7" lengthAdjust="spacingAndGlyphs">ATG</text>
<text x="317.4" y="593.5" font-size="6.3" fill="#6379a8" text-anchor="middle" textLength="9.6" lengthAdjust="spacingAndGlyphs">473</text>
<text x="317.4" y="602.8" font-size="6.3" fill="#bf4a64" text-anchor="middle" textLength="9.6" lengthAdjust="spacingAndGlyphs">251</text>
<text x="353.2" y="593.5" font-size="6.3" fill="#6379a8" text-anchor="middle" textLength="9.6" lengthAdjust="spacingAndGlyphs">319</text>
<text x="353.2" y="602.8" font-size="6.3" fill="#bf4a64" text-anchor="middle" textLength="9.6" lengthAdjust="spacingAndGlyphs">156</text>
<text x="389" y="593.5" font-size="6.3" fill="#6379a8" text-anchor="middle" textLength="9.6" lengthAdjust="spacingAndGlyphs">239</text>
<text x="389" y="602.8" font-size="6.3" fill="#bf4a64" text-anchor="middle" textLength="9.6" lengthAdjust="spacingAndGlyphs">118</text>
<text x="424.8" y="593.5" font-size="6.3" fill="#6379a8" text-anchor="middle" textLength="9.6" lengthAdjust="spacingAndGlyphs">203</text>
<text x="424.8" y="602.8" font-size="6.3" fill="#bf4a64" text-anchor="middle" textLength="6.4" lengthAdjust="spacingAndGlyphs">94</text>
<text x="460.6" y="593.5" font-size="6.3" fill="#6379a8" text-anchor="middle" textLength="9.6" lengthAdjust="spacingAndGlyphs">170</text>
<text x="460.6" y="602.8" font-size="6.3" fill="#bf4a64" text-anchor="middle" textLength="6.4" lengthAdjust="spacingAndGlyphs">80</text>
<text x="496.4" y="593.5" font-size="6.3" fill="#6379a8" text-anchor="middle" textLength="9.6" lengthAdjust="spacingAndGlyphs">129</text>
<text x="496.4" y="602.8" font-size="6.3" fill="#bf4a64" text-anchor="middle" textLength="6.4" lengthAdjust="spacingAndGlyphs">67</text></g>
<path d="M0,3.5H519" stroke="#222" stroke-width="1"/>
<path d="M0.8,3V611" stroke="#000" stroke-width="1.6"/>
<rect x="518" y="3" width="1" height="608" fill="#8c8c8c"/>
<rect x="519" y="3" width="1" height="608" fill="#4a4a4a"/>
<rect x="0" y="609" width="520" height="1" fill="#999"/>
<rect x="0" y="610" width="520" height="1" fill="#4a4a4a"/>
</svg>
</body></html>
